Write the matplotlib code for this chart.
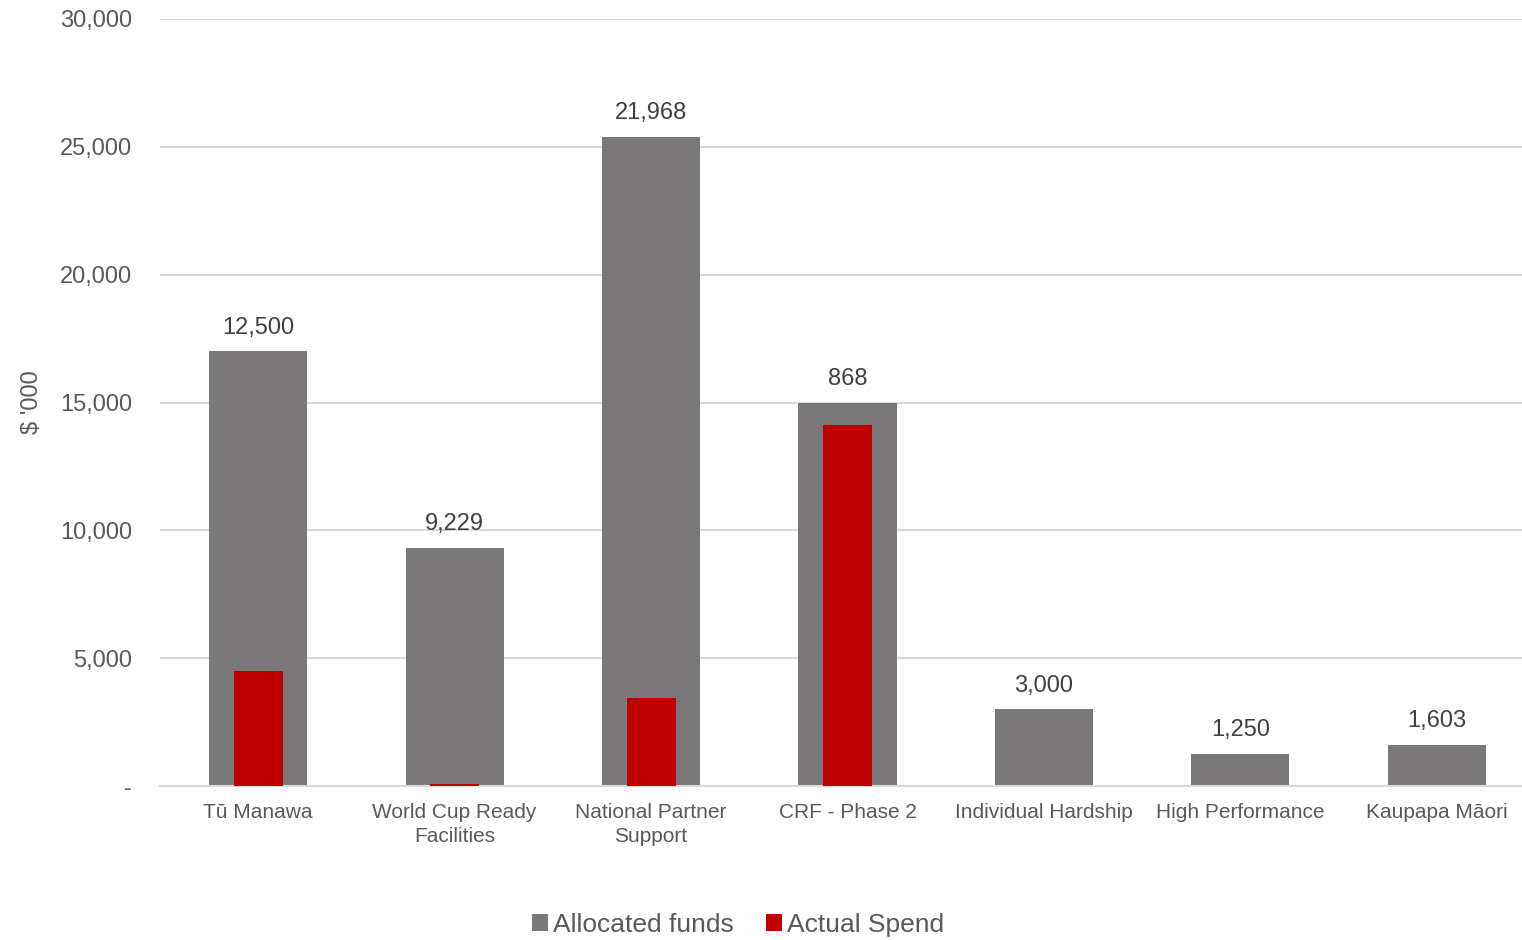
import matplotlib.pyplot as plt
import numpy as np

plt.rcParams['font.family'] = ['Liberation Sans', 'DejaVu Sans']

categories = ['Tū Manawa', 'World Cup Ready\nFacilities', 'National Partner\nSupport',
              'CRF - Phase 2', 'Individual Hardship', 'High Performance', 'Kaupapa Māori']
allocated = [17000, 9300, 25400, 15000, 3000, 1250, 1603]
actual = [4500, 60, 3440, 14120, 0, 0, 0]
bar_labels = ['12,500', '9,229', '21,968', '868', '3,000', '1,250', '1,603']
yticks = [0, 5000, 10000, 15000, 20000, 25000, 30000]
ytick_labels = ['-', '5,000', '10,000', '15,000', '20,000', '25,000', '30,000']

text_col = '#595959'
grey = '#7a7879'
red = '#c00000'

fig = plt.figure(figsize=(15.22, 9.40), dpi=100)
ax = fig.add_axes([160 / 1522, 1 - 786 / 940, 1375 / 1522, 767 / 940])

x = np.arange(len(categories))
ax.bar(x, allocated, width=0.5, color=grey, label='Allocated funds', zorder=2)
ax.bar(x, actual, width=0.25, color=red, label='Actual Spend', zorder=3)

for xi, h, lab in zip(x, allocated, bar_labels):
    ax.text(xi, h + 500, lab, ha='center', va='bottom', fontsize=17, color='#404040')

ax.set_xlim(-0.5, len(categories) - 0.5)
ax.set_ylim(0, 30000)
ax.set_yticks(yticks)
ax.set_yticklabels(ytick_labels)
ax.set_xticks(x)
ax.set_xticklabels(categories, fontsize=15, color=text_col, linespacing=1.35)
ax.tick_params(axis='y', labelsize=17, labelcolor=text_col, length=0, pad=20)
ax.tick_params(axis='x', length=0, pad=12)

ax.grid(axis='y', color='#d9d9d9', linewidth=1.5, zorder=0)
for s in ['top', 'right', 'left']:
    ax.spines[s].set_visible(False)
ax.spines['bottom'].set_color('#d9d9d9')
ax.spines['bottom'].set_linewidth(1.5)

ax.set_ylabel("$ '000", fontsize=17, color=text_col, labelpad=12)

leg = fig.legend(loc='lower center', bbox_to_anchor=(0.485, -0.022), ncol=2, frameon=False,
                 fontsize=19, handlelength=0.6, handleheight=0.6, handletextpad=0.2,
                 columnspacing=1.2)
for t in leg.get_texts():
    t.set_color(text_col)

fig.savefig('out.png', dpi=100)
